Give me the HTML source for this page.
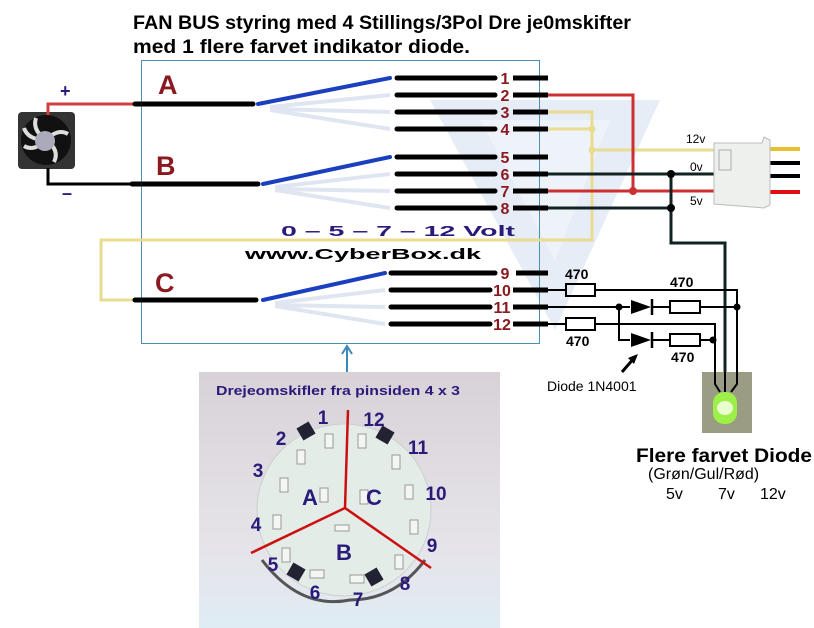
<!DOCTYPE html>
<html><head><meta charset="utf-8"><style>
body{margin:0;background:#fff;}
svg{display:block;}
text{font-family:"Liberation Sans",sans-serif;}
</style></head><body>
<svg width="814" height="628" viewBox="0 0 814 628" xmlns="http://www.w3.org/2000/svg">
<polygon points="430,100 660,100 555,330" fill="#dde6f3" opacity="0.7"/>
<polygon points="480,120 610,120 555,260" fill="#eef2f9"/>
<text x="133" y="29" font-size="19" font-weight="bold" fill="#000" textLength="498" lengthAdjust="spacingAndGlyphs">FAN BUS styring med 4 Stillings/3Pol Dre je0mskifter</text>
<text x="133" y="53" font-size="19" font-weight="bold" fill="#000" textLength="337" lengthAdjust="spacingAndGlyphs">med 1 flere farvet indikator diode.</text>
<rect x="141.5" y="60.5" width="398" height="283" fill="none" stroke="#4a8fb0" stroke-width="1"/>
<rect x="18" y="112" width="57" height="57" rx="4" fill="#333"/>
<circle cx="46" cy="140" r="25" fill="#111"/>
<g stroke="#ddd" stroke-width="4" fill="none">
<path d="M46 140 q-14 -10 -10 -22"/><path d="M46 140 q12 -12 22 -6"/><path d="M46 140 q14 10 8 22"/><path d="M46 140 q-12 12 -22 6"/><path d="M46 140 q-18 0 -22 -12"/>
</g>
<circle cx="45" cy="141" r="10" fill="#aab"/>
<text x="60" y="97" font-size="18" font-weight="bold" fill="#2a1a7a">+</text>
<text x="62" y="199" font-size="18" font-weight="bold" fill="#2a1a7a">–</text>
<polyline points="48,115 48,104 135,104" fill="none" stroke="#d04040" stroke-width="3"/>
<polyline points="48,168 48,184 132,184" fill="none" stroke="#000" stroke-width="3"/>
<polyline points="548,112 592,112 592,240 101,240 101,300 135,300" fill="none" stroke="#e8dc90" stroke-width="3"/>
<polyline points="548,129 592,129" fill="none" stroke="#e8dc90" stroke-width="3"/>
<polyline points="592,150 716,150" fill="none" stroke="#e8dc90" stroke-width="3"/>
<circle cx="592" cy="129" r="3.5" fill="#e8dc90"/><circle cx="592" cy="150" r="3.5" fill="#e8dc90"/>
<polyline points="548,95 633,95 633,191" fill="none" stroke="#cc3030" stroke-width="3"/>
<line x1="548" y1="191" x2="717" y2="191" stroke="#cc3030" stroke-width="3"/>
<circle cx="633" cy="191" r="4" fill="#cc3030"/>
<line x1="548" y1="174" x2="717" y2="174" stroke="#122" stroke-width="3"/>
<line x1="548" y1="208" x2="671" y2="208" stroke="#122" stroke-width="3"/>
<polyline points="671,174 671,243 725,243 725,382" fill="none" stroke="#122" stroke-width="3"/>
<circle cx="671" cy="174" r="4" fill="#000"/><circle cx="671" cy="208" r="4" fill="#000"/>
<line x1="768" y1="149" x2="800" y2="149" stroke="#e6c030" stroke-width="4"/>
<line x1="768" y1="163" x2="800" y2="163" stroke="#000" stroke-width="4"/>
<line x1="768" y1="176" x2="800" y2="176" stroke="#000" stroke-width="4"/>
<line x1="768" y1="192" x2="800" y2="192" stroke="#e01010" stroke-width="4"/>
<path d="M714 143 L762 143 L764 137 L770 140 L770 205 L764 208 L714 204 Z" fill="#eef0ee" stroke="#bbb"/>
<rect x="719" y="150" width="12" height="20" fill="none" stroke="#aaa"/>
<text x="686" y="143" font-size="12" fill="#000">12v</text>
<text x="690" y="171" font-size="12" fill="#000">0v</text>
<text x="690" y="205" font-size="12" fill="#000">5v</text>
<g font-size="27" font-weight="bold" fill="#8a1a20">
<text x="158" y="94">A</text><text x="156" y="175">B</text><text x="155" y="292">C</text>
</g>
<g stroke="#000" stroke-width="5" stroke-linecap="round">
<line x1="135" y1="104" x2="253" y2="104"/><line x1="132" y1="184" x2="258" y2="184"/><line x1="135" y1="300" x2="256" y2="300"/>
</g>
<g stroke="#dfe6f2" stroke-width="4">
<line x1="270" y1="107" x2="390" y2="95"/><line x1="270" y1="109" x2="390" y2="112"/><line x1="270" y1="110" x2="390" y2="129"/>
<line x1="275" y1="187" x2="390" y2="174"/><line x1="275" y1="189" x2="390" y2="191"/><line x1="275" y1="190" x2="390" y2="208"/>
<line x1="275" y1="303" x2="385" y2="290"/><line x1="275" y1="305" x2="385" y2="307"/><line x1="275" y1="306" x2="385" y2="324"/>
</g>
<g stroke="#1a40c0" stroke-width="4" stroke-linecap="round">
<line x1="258" y1="104" x2="390" y2="78"/><line x1="263" y1="184" x2="390" y2="157"/><line x1="263" y1="300" x2="385" y2="273"/>
</g>
<g stroke="#000" stroke-width="5" stroke-linecap="round">
<line x1="397" y1="78" x2="495" y2="78"/><line x1="397" y1="95" x2="495" y2="95"/><line x1="397" y1="112" x2="495" y2="112"/><line x1="397" y1="129" x2="495" y2="129"/>
<line x1="397" y1="157" x2="495" y2="157"/><line x1="397" y1="174" x2="495" y2="174"/><line x1="397" y1="191" x2="495" y2="191"/><line x1="397" y1="208" x2="495" y2="208"/>
<line x1="391" y1="273" x2="495" y2="273"/><line x1="391" y1="290" x2="490" y2="290"/><line x1="391" y1="307" x2="490" y2="307"/><line x1="391" y1="324" x2="490" y2="324"/>
</g>
<g stroke="#000" stroke-width="5">
<line x1="513" y1="78" x2="548" y2="78"/><line x1="513" y1="95" x2="548" y2="95"/><line x1="513" y1="112" x2="548" y2="112"/><line x1="513" y1="129" x2="548" y2="129"/>
<line x1="513" y1="157" x2="548" y2="157"/><line x1="513" y1="174" x2="548" y2="174"/><line x1="513" y1="191" x2="548" y2="191"/><line x1="513" y1="208" x2="548" y2="208"/>
<line x1="516" y1="273" x2="548" y2="273"/><line x1="513" y1="290" x2="548" y2="290"/><line x1="513" y1="307" x2="548" y2="307"/><line x1="513" y1="324" x2="548" y2="324"/>
</g>
<g font-size="16" font-weight="bold" fill="#8a1a20" text-anchor="middle">
<text x="505" y="84">1</text><text x="505" y="101">2</text><text x="505" y="118">3</text><text x="505" y="135">4</text>
<text x="505" y="163">5</text><text x="505" y="180">6</text><text x="505" y="197">7</text><text x="505" y="214">8</text>
<text x="505" y="279">9</text><text x="502" y="296">10</text><text x="502" y="313">11</text><text x="502" y="330">12</text>
</g>
<text x="281" y="236" font-size="15" font-weight="bold" fill="#2a1a7a" textLength="234" lengthAdjust="spacingAndGlyphs">0 – 5 – 7 – 12  Volt</text>
<text x="245" y="259" font-size="15" font-weight="bold" fill="#000" textLength="236" lengthAdjust="spacingAndGlyphs">www.CyberBox.dk</text>
<g stroke="#000" stroke-width="2" fill="none">
<polyline points="548,290 566,290"/><rect x="566" y="284" width="29" height="12"/><polyline points="595,290 737,290 737,382"/>
<polyline points="548,307 630,307"/><polyline points="653,307 670,307"/><rect x="670" y="301" width="30" height="12"/><polyline points="700,307 737,307"/>
<polyline points="548,324 566,324"/><rect x="566" y="318" width="29" height="12"/><polyline points="595,324 715,324 715,382"/>
<polyline points="619,307 619,340 630,340"/><polyline points="653,340 670,340"/><rect x="670" y="334" width="30" height="12"/><polyline points="700,340 713,340"/>
</g>
<polygon points="631,300 631,314 651,307" fill="#000"/><line x1="652" y1="299" x2="652" y2="315" stroke="#000" stroke-width="2.5"/>
<polygon points="631,333 631,347 651,340" fill="#000"/><line x1="652" y1="332" x2="652" y2="348" stroke="#000" stroke-width="2.5"/>
<circle cx="619" cy="307" r="3.5" fill="#000"/><circle cx="737" cy="307" r="3.5" fill="#000"/><circle cx="713" cy="340" r="3.5" fill="#000"/>
<g font-size="14" font-weight="bold" fill="#000">
<text x="565" y="279">470</text><text x="670" y="287">470</text><text x="566" y="346">470</text><text x="671" y="362">470</text>
</g>
<line x1="622" y1="372" x2="635" y2="357" stroke="#000" stroke-width="3"/><polygon points="638,354 628,358 634,364" fill="#000"/>
<text x="547" y="391" font-size="14" fill="#000">Diode 1N4001</text>
<rect x="702" y="372" width="50" height="61" fill="#9a9c84"/>
<g stroke="#000" stroke-width="2" fill="none"><polyline points="715,372 715,384 720,392"/><polyline points="725,372 725,392"/><polyline points="737,372 737,384 731,392"/></g>
<rect x="713" y="392" width="24" height="32" rx="11" fill="#9cf048"/>
<ellipse cx="725" cy="408" rx="8" ry="7" fill="#eaffd0"/>
<text x="636" y="462" font-size="19" font-weight="bold" fill="#000" textLength="176" lengthAdjust="spacingAndGlyphs">Flere farvet Diode</text>
<text x="648" y="479" font-size="16" fill="#000">(Grøn/Gul/Rød)</text>
<text x="666" y="499" font-size="16" fill="#000">5v</text><text x="718" y="499" font-size="16" fill="#000">7v</text><text x="760" y="499" font-size="16" fill="#000">12v</text>
<line x1="347" y1="346" x2="347" y2="372" stroke="#3a8ab8" stroke-width="2"/>
<polyline points="342,354 347,346 352,354" fill="none" stroke="#3a8ab8" stroke-width="2"/>
<defs><linearGradient id="bg" x1="0" y1="0" x2="0" y2="1"><stop offset="0" stop-color="#d8d2d8"/><stop offset="0.7" stop-color="#e6e4ea"/><stop offset="1" stop-color="#e0ecf4"/></linearGradient></defs>
<rect x="199" y="372" width="301" height="256" fill="url(#bg)"/>
<text x="216" y="395" font-size="13" font-weight="bold" fill="#2a1a7a" textLength="244" lengthAdjust="spacingAndGlyphs">Drejeomskifler  fra pinsiden 4 x 3</text>
<ellipse cx="344" cy="510" rx="87" ry="86" fill="#e4ece8" stroke="#c8d0cc"/>
<path d="M262 560 Q300 610 350 600 Q395 600 425 560" fill="none" stroke="#555" stroke-width="3"/>
<g fill="#223">
<rect x="299" y="424" width="14" height="14" transform="rotate(-30 306 431)"/><rect x="378" y="428" width="14" height="14" transform="rotate(30 385 435)"/>
<rect x="289" y="565" width="14" height="14" transform="rotate(30 296 572)"/><rect x="367" y="570" width="14" height="14" transform="rotate(-30 374 577)"/>
</g>
<g fill="#f4f6f4" stroke="#999" stroke-width="1">
<rect x="325" y="434" width="8" height="14"/><rect x="358" y="434" width="8" height="14"/><rect x="297" y="450" width="8" height="14"/><rect x="392" y="455" width="8" height="14"/>
<rect x="280" y="478" width="8" height="14"/><rect x="405" y="485" width="8" height="14"/><rect x="273" y="515" width="8" height="14"/><rect x="410" y="520" width="8" height="14"/>
<rect x="282" y="548" width="8" height="14"/><rect x="395" y="555" width="8" height="14"/><rect x="310" y="570" width="14" height="8"/><rect x="350" y="575" width="14" height="8"/>
<rect x="335" y="525" width="14" height="6"/><rect x="320" y="488" width="8" height="14"/><rect x="360" y="490" width="8" height="14"/>
</g>
<g stroke="#cc1010" stroke-width="2.5" fill="none"><polyline points="348,410 345,508 251,553"/><polyline points="345,508 431,568"/></g>
<g font-size="19" font-weight="bold" fill="#2a1a7a" text-anchor="middle">
<text x="323" y="424">1</text><text x="374" y="426">12</text><text x="281" y="445">2</text><text x="418" y="454">11</text>
<text x="258" y="477">3</text><text x="436" y="500">10</text><text x="256" y="531">4</text><text x="432" y="552">9</text>
<text x="273" y="571">5</text><text x="405" y="590">8</text><text x="315" y="599">6</text><text x="358" y="606">7</text>
<text x="310" y="505" font-size="22">A</text><text x="374" y="505" font-size="22">C</text><text x="344" y="560" font-size="22">B</text>
</g>
</svg>
</body></html>
